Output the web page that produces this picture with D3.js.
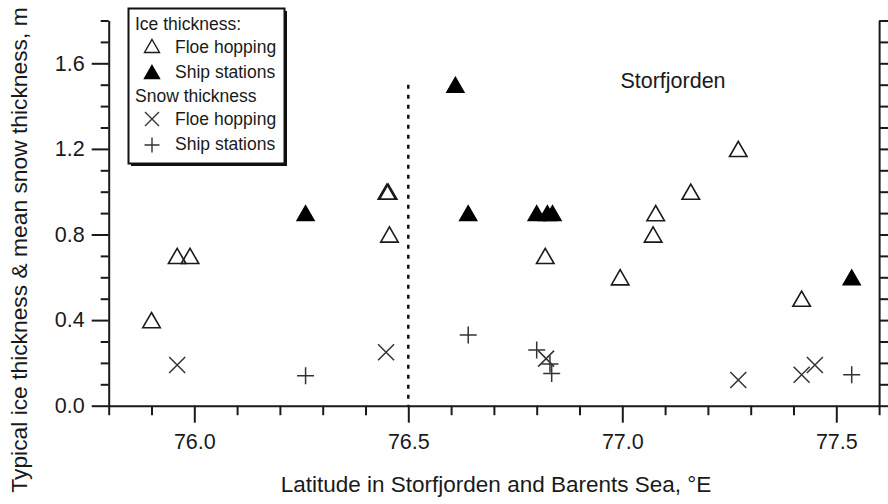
<!DOCTYPE html>
<html>
<head>
<meta charset="utf-8">
<script src="https://cdn.jsdelivr.net/npm/d3@7"></script>
<style>
  html, body { margin: 0; padding: 0; background: #fff; }
  svg { display: block; }
  text { font-family: "Liberation Sans", Arial, Helvetica, sans-serif; fill: #1a1a1a; }
</style>
</head>
<body>
<svg id="chart" width="888" height="504"></svg>
<script>
// ---- data ----
const iceFloeLat  = [75.90, 75.96, 75.99, 76.450, 76.453, 76.456, 76.82, 76.995, 77.072, 77.078, 77.16, 77.271, 77.419];
const iceFloeVal  = [0.40, 0.70, 0.70, 1.00, 1.00, 0.80, 0.70, 0.60, 0.80, 0.90, 1.00, 1.20, 0.50];
const iceShipLat  = [76.26, 76.61, 76.64, 76.80, 76.825, 76.837, 77.536];
const iceShipVal  = [0.90, 1.50, 0.90, 0.90, 0.90, 0.90, 0.60];
const snowFloeLat = [75.96, 76.448, 76.822, 77.271, 77.419, 77.45];
const snowFloeVal = [0.19, 0.25, 0.22, 0.12, 0.145, 0.19];
const snowShipLat = [76.26, 76.64, 76.80, 76.831, 76.835, 77.536];
const snowShipVal = [0.14, 0.33, 0.26, 0.195, 0.15, 0.145];

const xMajorTicks = [76.0, 76.5, 77.0, 77.5];
const xMinorTicks = [75.8, 75.9, 76.1, 76.2, 76.3, 76.4, 76.6, 76.7, 76.8, 76.9, 77.1, 77.2, 77.3, 77.4, 77.6];
const yMajorTicks = [0.0, 0.4, 0.8, 1.2, 1.6];
const yMinorTicks = [0.1, 0.2, 0.3, 0.5, 0.6, 0.7, 0.9, 1.0, 1.1, 1.3, 1.4, 1.5, 1.7, 1.8];
const boundaryLat = 76.5;
const boundaryTop = 1.5;

const xTitle = "Latitude in Storfjorden and Barents Sea, °E";
const yTitle = "Typical ice thickness & mean snow thickness, m";
const regionLabel = "Storfjorden";

// ---- layout ----
const svg = d3.select("#chart");
const x = d3.scaleLinear().domain([75.8, 77.6]).range([108.7, 879.1]);
const y = d3.scaleLinear().domain([0, 1.8]).range([405.7, 20.5]);
const axisColor = "#1a1a1a";

function styleAxis(g) {
  g.selectAll("path.domain").attr("stroke", axisColor).attr("stroke-width", 2);
  g.selectAll(".tick line").attr("stroke", axisColor).attr("stroke-width", 2);
  g.selectAll(".tick text").attr("fill", axisColor).attr("font-family", "'Liberation Sans', Arial, sans-serif");
}

// left axis
svg.append("g").attr("transform", `translate(${x(75.8)},0)`)
  .call(d3.axisLeft(y).tickValues(yMinorTicks).tickSize(8).tickSizeOuter(0).tickFormat(""))
  .call(styleAxis);
svg.append("g").attr("transform", `translate(${x(75.8)},0)`)
  .call(d3.axisLeft(y).tickValues(yMajorTicks).tickSize(17).tickSizeOuter(0).tickPadding(7).tickFormat(d3.format(".1f")))
  .call(styleAxis)
  .call(g => g.select("path.domain").remove())
  .selectAll(".tick text").attr("font-size", 21.5);

// right axis
svg.append("g").attr("transform", `translate(${x(77.6)},0)`)
  .call(d3.axisRight(y).tickValues(yMinorTicks).tickSize(9).tickSizeOuter(0).tickFormat(""))
  .call(styleAxis);
svg.append("g").attr("transform", `translate(${x(77.6)},0)`)
  .call(d3.axisRight(y).tickValues(yMajorTicks).tickSize(17).tickSizeOuter(0).tickFormat(""))
  .call(styleAxis)
  .call(g => g.select("path.domain").remove());

// bottom axis
svg.append("g").attr("transform", `translate(0,${y(0)})`)
  .call(d3.axisBottom(x).tickValues(xMinorTicks).tickSize(9.5).tickSizeOuter(0).tickFormat(""))
  .call(styleAxis);
svg.append("g").attr("transform", `translate(0,${y(0)})`)
  .call(d3.axisBottom(x).tickValues(xMajorTicks).tickSize(17).tickSizeOuter(0).tickPadding(11).tickFormat(d3.format(".1f")))
  .call(styleAxis)
  .call(g => g.select("path.domain").remove())
  .selectAll(".tick text").attr("font-size", 21.5);

// axis titles
svg.append("text").attr("x", 496).attr("y", 492).attr("text-anchor", "middle")
  .attr("font-size", 22.5).text(xTitle);
svg.append("text").attr("transform", "translate(27,250) rotate(-90)").attr("text-anchor", "middle")
  .attr("font-size", 22.8).text(yTitle);

// boundary dotted line
svg.append("line")
  .attr("x1", x(boundaryLat)).attr("x2", x(boundaryLat))
  .attr("y1", y(boundaryTop)).attr("y2", y(0))
  .attr("stroke", "#111").attr("stroke-width", 2.5).attr("stroke-dasharray", "4,6");

svg.append("text").attr("x", 673).attr("y", 88).attr("text-anchor", "middle")
  .attr("font-size", 21.5).text(regionLabel);

// ---- markers ----
const triPath = (s) => { const h = s * Math.sqrt(3) / 2; return `M0,${-h/2}L${s/2},${h/2}L${-s/2},${h/2}Z`; };
const crossPath = (s) => `M${-s/2},${-s/2}L${s/2},${s/2}M${-s/2},${s/2}L${s/2},${-s/2}`;
const plusPath = (s) => `M${-s/2},0L${s/2},0M0,${-s/2}L0,${s/2}`;

function drawSeries(lats, vals, pathStr, fill, stroke, sw) {
  svg.append("g").selectAll("path").data(lats.map((d, i) => [d, vals[i]])).join("path")
    .attr("transform", d => `translate(${x(d[0])},${y(d[1])})`)
    .attr("d", pathStr).attr("fill", fill).attr("stroke", stroke).attr("stroke-width", sw);
}
drawSeries(iceFloeLat, iceFloeVal, triPath(17.5), "none", "#1a1a1a", 1.6);
drawSeries(iceShipLat, iceShipVal, triPath(17.5), "#000", "#000", 1.2);
drawSeries(snowFloeLat, snowFloeVal, crossPath(16), "none", "#333", 1.5);
drawSeries(snowShipLat, snowShipVal, plusPath(17), "none", "#333", 1.5);

// ---- legend ----
const leg = svg.append("g");
leg.append("rect").attr("x", 131).attr("y", 11).attr("width", 156).attr("height", 155).attr("fill", "#111");
leg.append("rect").attr("x", 128.5).attr("y", 8.5).attr("width", 156).attr("height", 155)
  .attr("fill", "#fff").attr("stroke", "#111").attr("stroke-width", 2);
const legItems = [
  { t: "Ice thickness:", ty: 30, tx: 135 },
  { t: "Floe hopping", ty: 53, tx: 175, sym: triPath(15), fill: "none", stroke: "#1a1a1a", sy: 46 },
  { t: "Ship stations", ty: 78, tx: 175, sym: triPath(15), fill: "#000", stroke: "#000", sy: 72 },
  { t: "Snow thickness", ty: 102, tx: 135 },
  { t: "Floe hopping", ty: 125, tx: 175, sym: crossPath(14), fill: "none", stroke: "#333", sy: 119 },
  { t: "Ship stations", ty: 150, tx: 175, sym: plusPath(15), fill: "none", stroke: "#333", sy: 145 }
];
legItems.forEach(d => {
  leg.append("text").attr("x", d.tx).attr("y", d.ty).attr("font-size", 17.5).text(d.t);
  if (d.sym) {
    leg.append("path").attr("transform", `translate(152,${d.sy})`).attr("d", d.sym)
      .attr("fill", d.fill).attr("stroke", d.stroke).attr("stroke-width", 1.4);
  }
});
</script>
</body>
</html>
